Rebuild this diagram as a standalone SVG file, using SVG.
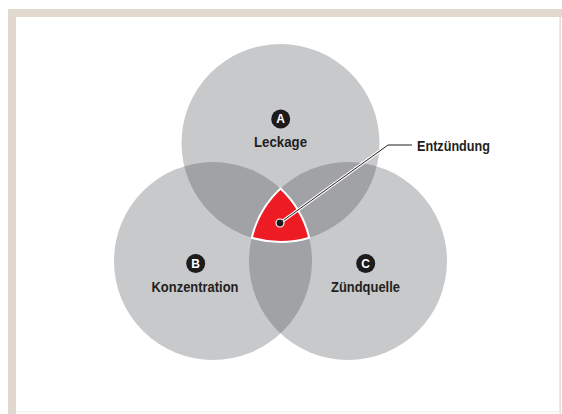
<svg xmlns="http://www.w3.org/2000/svg" width="562" height="414" viewBox="0 0 562 414">
  <style>
    .lt { fill: #c8c9cb; }
    .dk { fill: #a1a2a5; }
    .lbl { font-family: "Liberation Sans", Arial, sans-serif; font-weight: bold; font-size: 15.5px; fill: #231f20; }
    .bdg { fill: #1d1b1c; }
    .bl { font-family: "Liberation Sans", Arial, sans-serif; font-weight: bold; font-size: 12px; fill: #ffffff; text-anchor: middle; }
  </style>
  <defs>
    <clipPath id="clipA"><circle cx="280.5" cy="143" r="99"/></clipPath>
    <clipPath id="clipB"><circle cx="213" cy="261" r="99"/></clipPath>
    <clipPath id="clipC"><circle cx="348" cy="261" r="99"/></clipPath>
  </defs>
  <rect x="0" y="0" width="562" height="414" fill="#ffffff"/>
  <g id="frame">
    <rect x="8" y="9" width="554" height="8" fill="#e1d9cf"/>
    <rect x="8" y="9" width="8" height="405" fill="#e1d9cf"/>
    <rect x="559.5" y="17" width="1.3" height="397" fill="#dcd8d3"/>
    <rect x="16" y="411.5" width="544" height="1" fill="#efedea"/>
  </g>
  <g id="circleA"><circle class="lt" cx="280.5" cy="143" r="99"/></g>
  <g id="circleB"><circle class="lt" cx="213" cy="261" r="99"/></g>
  <g id="circleC"><circle class="lt" cx="348" cy="261" r="99"/></g>
  <g id="overlaps">
    <circle class="dk" cx="280.5" cy="143" r="99" clip-path="url(#clipB)"/>
    <circle class="dk" cx="280.5" cy="143" r="99" clip-path="url(#clipC)"/>
    <circle class="dk" cx="213" cy="261" r="99" clip-path="url(#clipC)"/>
  </g>
  <g id="entzuendung-region">
    <path d="M280.5 188.58 A99 99 0 0 0 251.77 237.74 A99 99 0 0 0 309.23 237.74 A99 99 0 0 0 280.5 188.58 Z" fill="#ed1c24" stroke="#ffffff" stroke-width="2" stroke-linejoin="miter"/>
  </g>
  <g id="connectors">
    <polyline points="280,223 388,145" fill="none" stroke="#ffffff" stroke-width="3"/>
    <polyline points="280,223 388,145 412,145" fill="none" stroke="#231f20" stroke-width="1"/>
    <circle cx="280" cy="223" r="4" fill="#1d1b1c" stroke="#ffffff" stroke-width="1.2"/>
  </g>
  <g id="nodeA">
    <circle class="bdg" cx="280.7" cy="119" r="9.5"/>
    <text class="bl" x="280.7" y="123.3">A</text>
    <text class="lbl" x="280.5" y="147" text-anchor="middle" textLength="53" lengthAdjust="spacingAndGlyphs">Leckage</text>
  </g>
  <g id="nodeB">
    <circle class="bdg" cx="195.7" cy="263.5" r="9.5"/>
    <text class="bl" x="195.7" y="267.8">B</text>
    <text class="lbl" x="195" y="291.5" text-anchor="middle" textLength="87" lengthAdjust="spacingAndGlyphs">Konzentration</text>
  </g>
  <g id="nodeC">
    <circle class="bdg" cx="365.7" cy="263.5" r="9.5"/>
    <text class="bl" x="365.7" y="267.8">C</text>
    <text class="lbl" x="365.5" y="291.5" text-anchor="middle" textLength="69" lengthAdjust="spacingAndGlyphs">Zündquelle</text>
  </g>
  <g id="label-entzuendung">
    <text class="lbl" x="417" y="150.5" textLength="73" lengthAdjust="spacingAndGlyphs">Entzündung</text>
  </g>
</svg>
